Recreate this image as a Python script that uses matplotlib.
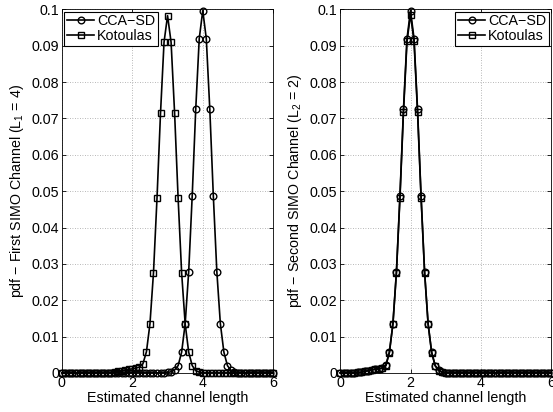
import numpy as np
import matplotlib
matplotlib.use("Agg")
import matplotlib.pyplot as plt

plt.rcParams['font.family'] = ['Liberation Sans', 'DejaVu Sans']
plt.rcParams['mathtext.fontset'] = 'custom'
plt.rcParams['mathtext.rm'] = 'Liberation Sans'
plt.rcParams['mathtext.it'] = 'Liberation Sans'

x = [round(0.1 * i, 1) for i in range(61)]

def expand(d):
    return [d.get(round(v, 1), 0.0) for v in x]

# Left panel (first SIMO channel, L1 = 4)
cca_left_vals = {3.0: 0.0001, 3.1: 0.0003, 3.2: 0.0008, 3.3: 0.0020, 3.4: 0.0057,
                 3.5: 0.0135, 3.6: 0.0278, 3.7: 0.0487, 3.8: 0.0725, 3.9: 0.0920,
                 4.0: 0.0997, 4.1: 0.0920, 4.2: 0.0725, 4.3: 0.0487, 4.4: 0.0278,
                 4.5: 0.0135, 4.6: 0.0057, 4.7: 0.0020, 4.8: 0.0007, 4.9: 0.0002}
kot_left_vals = {1.5: 0.0002, 1.6: 0.0004, 1.7: 0.0006, 1.8: 0.0008, 1.9: 0.0010,
                 2.0: 0.0011, 2.1: 0.0013, 2.2: 0.0016, 2.3: 0.0025, 2.4: 0.0058,
                 2.5: 0.0135, 2.6: 0.0275, 2.7: 0.0480, 2.8: 0.0715, 2.9: 0.0910,
                 3.0: 0.0983, 3.1: 0.0910, 3.2: 0.0715, 3.3: 0.0480, 3.4: 0.0275,
                 3.5: 0.0135, 3.6: 0.0057, 3.7: 0.0020, 3.8: 0.0006, 3.9: 0.0002}
# Right panel (second SIMO channel, L2 = 2)
cca_right_vals = {0.5: 0.0001, 0.6: 0.0002, 0.7: 0.0004, 0.8: 0.0006, 0.9: 0.0008,
                  1.0: 0.0010, 1.1: 0.0011, 1.2: 0.0013, 1.3: 0.0021, 1.4: 0.0057,
                  1.5: 0.0135, 1.6: 0.0278, 1.7: 0.0487, 1.8: 0.0725, 1.9: 0.0920,
                  2.0: 0.0997, 2.1: 0.0920, 2.2: 0.0725, 2.3: 0.0487, 2.4: 0.0278,
                  2.5: 0.0135, 2.6: 0.0057, 2.7: 0.0020, 2.8: 0.0007, 2.9: 0.0002}
kot_right_vals = {0.5: 0.0001, 0.6: 0.0002, 0.7: 0.0004, 0.8: 0.0006, 0.9: 0.0008,
                  1.0: 0.0010, 1.1: 0.0011, 1.2: 0.0013, 1.3: 0.0020, 1.4: 0.0056,
                  1.5: 0.0134, 1.6: 0.0276, 1.7: 0.0482, 1.8: 0.0717, 1.9: 0.0912,
                  2.0: 0.0986, 2.1: 0.0912, 2.2: 0.0717, 2.3: 0.0482, 2.4: 0.0276,
                  2.5: 0.0134, 2.6: 0.0056, 2.7: 0.0020, 2.8: 0.0006, 2.9: 0.0002}

cca_left = expand(cca_left_vals)
kot_left = expand(kot_left_vals)
cca_right = expand(cca_right_vals)
kot_right = expand(kot_right_vals)

yticks = [0, 0.01, 0.02, 0.03, 0.04, 0.05, 0.06, 0.07, 0.08, 0.09, 0.1]
ytick_labels = ['0', '0.01', '0.02', '0.03', '0.04', '0.05', '0.06', '0.07', '0.08', '0.09', '0.1']
xticks = [0, 2, 4, 6]

fig = plt.figure(figsize=(5.53, 4.12), dpi=100)
ax1 = fig.add_axes([0.112, 0.095, 0.382, 0.882])
ax2 = fig.add_axes([0.615, 0.095, 0.382, 0.882])

FS = 10.3
mk = dict(color='black', lw=1.2, markersize=4.8, markerfacecolor='none',
          markeredgecolor='black', markeredgewidth=1.0, clip_on=False)

for ax, cca, kot, ylab, loc in [
        (ax1, cca_left, kot_left, 'pdf − First SIMO Channel (L$_{1}$ = 4)', 'upper left'),
        (ax2, cca_right, kot_right, 'pdf − Second SIMO Channel (L$_{2}$ = 2)', 'upper right')]:
    ax.plot(x, cca, marker='o', label='CCA−SD', **mk)
    ax.plot(x, kot, marker='s', label='Kotoulas', **mk)
    ax.set_xlim(0, 6)
    ax.set_ylim(0, 0.1)
    ax.set_xticks(xticks)
    ax.set_xticklabels([str(t) for t in xticks])
    ax.set_yticks(yticks)
    ax.set_yticklabels(ytick_labels)
    ax.tick_params(direction='in', labelsize=FS, length=3, width=0.6, pad=2,
                   top=True, right=True)
    ax.grid(True, linestyle=(0, (1, 2)), color='#a0a0a0', linewidth=0.6)
    ax.set_axisbelow(True)
    for s in ax.spines.values():
        s.set_linewidth(0.6)
    ax.set_xlabel('Estimated channel length', fontsize=FS, labelpad=1)
    ax.set_ylabel(ylab, fontsize=FS, labelpad=4)
    leg = ax.legend(loc=loc, fontsize=FS, frameon=True, fancybox=False,
                    edgecolor='black', framealpha=1, borderaxespad=0.15,
                    handlelength=1.9, handletextpad=0.2, borderpad=0.2,
                    labelspacing=0.05)
    leg.get_frame().set_linewidth(0.8)

fig.savefig('out.png', dpi=100)
